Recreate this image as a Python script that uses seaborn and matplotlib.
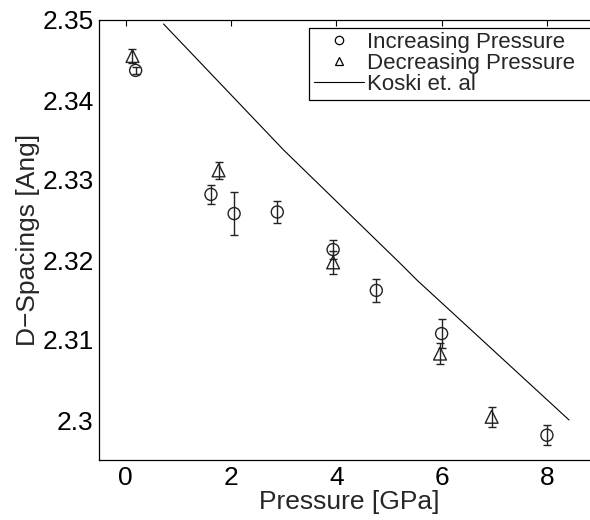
import matplotlib
matplotlib.use("Agg")
import matplotlib.pyplot as plt
import seaborn as sns
import pandas as pd
from matplotlib.lines import Line2D

# Data
inc_pressure = [0.19, 1.62, 2.06, 2.88, 3.94, 4.76, 6.00, 8.00]
inc_dspacing = [2.3437, 2.3282, 2.3258, 2.3260, 2.3213, 2.3162, 2.3108, 2.2981]
inc_error = [0.0004, 0.00115, 0.00265, 0.0014, 0.0012, 0.0014, 0.0018, 0.00127]

dec_pressure = [0.13, 1.765, 3.94, 5.97, 6.95]
dec_dspacing = [2.3455, 2.3312, 2.3197, 2.3083, 2.3004]
dec_error = [0.0009, 0.0011, 0.0014, 0.0013, 0.00125]

koski_pressure = [0.72, 3.0, 5.21, 5.53, 8.42]
koski_dspacing = [2.3495, 2.33375, 2.3196, 2.3175, 2.3000]

xticks = [0, 2, 4, 6, 8]
yticks = [2.3, 2.31, 2.32, 2.33, 2.34, 2.35]
ytick_labels = ["2.3", "2.31", "2.32", "2.33", "2.34", "2.35"]

sns.set_style("white")
plt.rcParams["font.family"] = ["Liberation Sans", "DejaVu Sans"]
plt.rcParams["axes.unicode_minus"] = True

fig = plt.figure(figsize=(5.9, 5.2), dpi=100)
ax = fig.add_axes([99.3 / 590, 60 / 520, (599.6 - 99.3) / 590, 440 / 520])

col = "#222222"
koski = pd.DataFrame({"p": koski_pressure, "d": koski_dspacing})
sns.lineplot(data=koski, x="p", y="d", ax=ax, color="black", linewidth=0.8,
             sort=False, estimator=None)

inc = pd.DataFrame({"p": inc_pressure, "d": inc_dspacing})
dec = pd.DataFrame({"p": dec_pressure, "d": dec_dspacing})

ax.errorbar(inc_pressure, inc_dspacing, yerr=inc_error, fmt="none",
            ecolor=col, elinewidth=1.0, capsize=2.6, capthick=1.0)
ax.errorbar(dec_pressure, dec_dspacing, yerr=dec_error, fmt="none",
            ecolor=col, elinewidth=1.0, capsize=2.6, capthick=1.0)
sns.scatterplot(data=inc, x="p", y="d", ax=ax, marker="o", s=75,
                facecolor="none", edgecolor=col, linewidth=1.0, zorder=3)
sns.scatterplot(data=dec, x="p", y="d", ax=ax, marker="^", s=85,
                facecolor="none", edgecolor=col, linewidth=1.0, zorder=3)

ax.set_xlim(-0.5, 9)
ax.set_ylim(2.295, 2.35)
ax.set_xticks(xticks)
ax.set_xticklabels([str(t) for t in xticks])
ax.set_yticks(yticks)
ax.set_yticklabels(ytick_labels)
ax.tick_params(direction="in", length=4, width=0.8, labelsize=19,
               top=True, right=True, colors="black", pad=4)
for s in ax.spines.values():
    s.set_color("black")
    s.set_linewidth(0.9)

ax.set_xlabel("Pressure [GPa]", fontsize=19, labelpad=0)
ax.set_ylabel("D\u2212Spacings [Ang]", fontsize=19, labelpad=2)

handles = [
    Line2D([], [], linestyle="none", marker="o", markersize=6,
           markerfacecolor="none", markeredgecolor="black", markeredgewidth=0.9),
    Line2D([], [], linestyle="none", marker="^", markersize=6,
           markerfacecolor="none", markeredgecolor="black", markeredgewidth=0.9),
    Line2D([], [], color="black", linewidth=0.8),
]
labels = ["Increasing Pressure", "Decreasing Pressure", "Koski et. al"]
leg = ax.legend(handles, labels, loc="upper left", mode="expand",
                bbox_to_anchor=(309.3 / 590, 1 - 28.3 / 520,
                                (592 - 309.3) / 590, 0.001),
                bbox_transform=fig.transFigure, fontsize=16,
                frameon=True, fancybox=False, edgecolor="black",
                framealpha=1, borderpad=0.2, labelspacing=0.0,
                handlelength=2.25, handletextpad=0.15, borderaxespad=0)
leg.get_frame().set_linewidth(0.9)

fig.savefig("out.png", dpi=100)
